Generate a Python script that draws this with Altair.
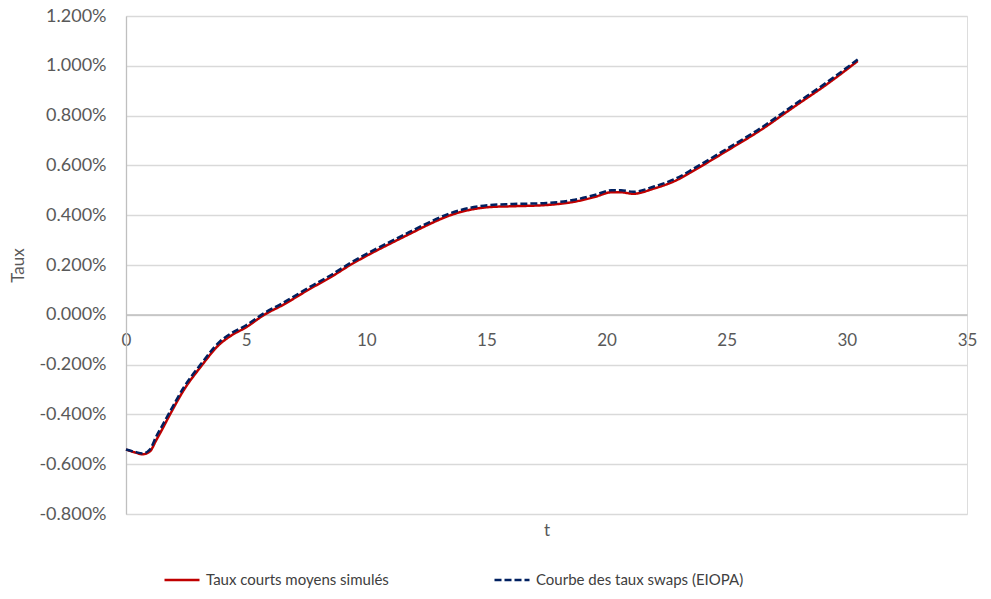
import altair as alt
import pandas as pd

# Time (years)
t_red = [0, 0.35, 0.7, 1.0, 1.25, 1.45, 1.85, 2.4, 3.1, 3.9, 4.4, 5.0, 5.75, 6.5, 7.67,
         8.5, 9.33, 10.17, 11.0, 11.83, 12.67, 13.5, 14.33, 15.17, 16.1, 17.5, 18.6,
         19.5, 20.2, 20.6, 21.1, 21.97, 22.9, 23.64, 25.03, 26.4, 27.8, 29.2, 30.45]
# Taux courts moyens simulés (%)
red_vals = [-0.541, -0.552, -0.560, -0.548, -0.505, -0.470, -0.397, -0.303, -0.210, -0.118,
            -0.082, -0.050, 0.000, 0.038, 0.105, 0.150, 0.200, 0.245, 0.286, 0.326,
            0.366, 0.400, 0.422, 0.433, 0.436, 0.441, 0.453, 0.473, 0.492, 0.492,
            0.486, 0.507, 0.540, 0.580, 0.660, 0.741, 0.835, 0.928, 1.019]
# Courbe des taux swaps (EIOPA) (%)
blue_vals = [-0.541, -0.550, -0.557, -0.540, -0.490, -0.455, -0.385, -0.292, -0.200, -0.108,
             -0.073, -0.042, 0.007, 0.046, 0.113, 0.158, 0.208, 0.253, 0.294, 0.334,
             0.374, 0.408, 0.430, 0.441, 0.445, 0.449, 0.461, 0.481, 0.500, 0.500,
             0.494, 0.515, 0.548, 0.588, 0.668, 0.749, 0.843, 0.936, 1.025]

series_names = ["Taux courts moyens simulés", "Courbe des taux swaps (EIOPA)"]
series_colors = ["#C00000", "#002060"]
y_ticks = [-0.8, -0.6, -0.4, -0.2, 0.0, 0.2, 0.4, 0.6, 0.8, 1.0, 1.2]
x_ticks = [0, 5, 10, 15, 20, 25, 30, 35]

rows = []
for t, v in zip(t_red, red_vals):
    rows.append({"t": t, "taux": v, "serie": series_names[0], "o": 0})
for t, v in zip(t_red, blue_vals):
    rows.append({"t": t, "taux": v, "serie": series_names[1], "o": 1})
df = pd.DataFrame(rows)

FONT = "Lato"
GREY = "#595959"

legend_kw = dict(title=None, orient="none", direction="horizontal",
                 legendX=37, legendY=545, symbolType="stroke",
                 symbolSize=1225, symbolStrokeWidth=2.5,
                 labelFont=FONT, labelFontSize=15, labelColor="#404040",
                 labelOffset=5, columnPadding=100, labelLimit=400)

chart = alt.Chart(df).mark_line(strokeWidth=2.5, interpolate="monotone").encode(
    x=alt.X("t:Q",
            scale=alt.Scale(domain=[0, 35], nice=False),
            axis=alt.Axis(values=x_ticks, title="t", grid=False, ticks=False,
                          offset=-199.5, domainColor="#bfbfbf", domainWidth=1.3,
                          labelFlush=False, labelBound=False,
                          labelPadding=18, labelFontSize=17, labelColor=GREY,
                          labelFont=FONT, titleFont=FONT, titleFontSize=17,
                          titleColor=GREY, titleFontWeight="normal",
                          titleY=216, titleBaseline="middle")),
    y=alt.Y("taux:Q",
            scale=alt.Scale(domain=[-0.8, 1.2], nice=False, zero=False),
            axis=alt.Axis(values=y_ticks, title="Taux", grid=True, gridColor="#d9d9d9",
                          gridWidth=1.3, ticks=False, domainColor="#bfbfbf", domainWidth=1.3,
                          labelExpr="replace(format(datum.value, '.3f'), '\u2212', '-') + '%'",
                          labelPadding=20, labelFontSize=18, labelColor=GREY,
                          labelFont=FONT, titleFont=FONT, titleFontSize=17,
                          titleColor=GREY, titleFontWeight="normal",
                          titleX=-108, titleAngle=270, titleBaseline="middle")),
    color=alt.Color("serie:N",
                    scale=alt.Scale(domain=series_names, range=series_colors),
                    legend=alt.Legend(**legend_kw)),
    strokeDash=alt.StrokeDash("serie:N",
                              scale=alt.Scale(domain=series_names, range=[[1, 0], [7, 3]]),
                              legend=alt.Legend(**legend_kw)),
    order=alt.Order("o:Q"),
    detail="serie:N",
).properties(
    width=841, height=498,
    autosize=alt.AutoSizeParams(type="none"),
    padding={"left": 126, "top": 16, "right": 24, "bottom": 85},
).configure_view(stroke=None).configure(background="white")

chart.save("out.html", embed_options={"renderer": "svg", "actions": False})
